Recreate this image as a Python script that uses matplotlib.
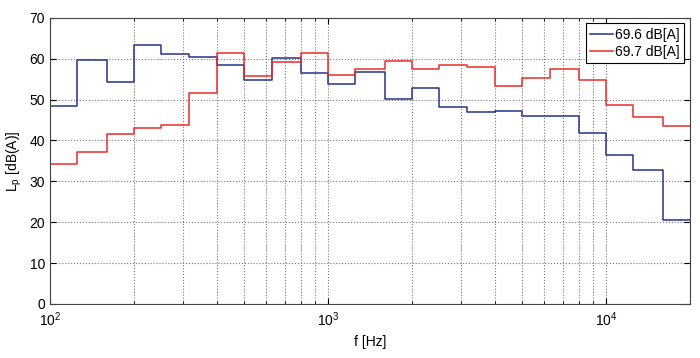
import numpy as np
import matplotlib.pyplot as plt
from matplotlib.ticker import LogLocator, NullFormatter

plt.rcParams['font.family'] = ['Liberation Sans', 'DejaVu Sans']

# third-octave band edges (lower) and upper end of last band
bands = [100, 125, 160, 200, 250, 315, 400, 500, 630, 800, 1000, 1250,
         1600, 2000, 2500, 3150, 4000, 5000, 6300, 8000, 10000, 12500, 16000]
f_end = 20000

lp_blue = [48.5, 59.7, 54.2, 63.3, 61.2, 60.4, 58.4, 54.7, 60.1, 56.6, 53.9,
           56.8, 50.2, 52.9, 48.1, 46.9, 47.3, 46.1, 46.1, 41.8, 36.5, 32.7, 20.6]
lp_red = [34.2, 37.3, 41.7, 43.1, 43.8, 51.6, 61.3, 55.7, 59.3, 61.5, 56.1,
          57.4, 59.4, 57.4, 58.5, 58.0, 53.3, 55.2, 57.4, 54.7, 48.6, 45.8, 43.6]

labels = ["69.6 dB[A]", "69.7 dB[A]"]

fig = plt.figure(figsize=(7, 3.58), dpi=100)
ax = fig.add_axes([0.0714, 0.151, 0.914, 0.799])

f = bands + [f_end]
ax.step(f, lp_blue + [lp_blue[-1]], where='post', color='#25338a', lw=1.1, label=labels[0])
ax.step(f, lp_red + [lp_red[-1]], where='post', color='#ec2a2a', lw=1.1, label=labels[1])

ax.set_xscale('log')
ax.set_xlim(100, 20000)
ax.set_ylim(0, 70)
ax.set_yticks(np.arange(0, 71, 10))
ax.xaxis.set_minor_locator(LogLocator(base=10, subs=np.arange(2, 10)))
ax.xaxis.set_minor_formatter(NullFormatter())

ax.grid(True, which='major', ls=':', color='#777777', lw=0.8)
ax.grid(True, which='minor', axis='x', ls=':', color='#777777', lw=0.8)

ax.tick_params(which='both', direction='in', top=True, right=True, labelsize=10)
ax.tick_params(which='major', length=4)
ax.tick_params(which='minor', length=2.5)
ax.tick_params(axis='x', which='major', pad=5)
for s in ax.spines.values():
    s.set_color('#444444')

ax.set_xlabel('f [Hz]', fontsize=10)
ax.set_ylabel('L$_\\mathregular{p}$ [dB(A)]', fontsize=10)

leg = ax.legend(loc='upper right', fontsize=10, fancybox=False, framealpha=1,
                edgecolor='black', borderpad=0.3, handlelength=1.6,
                handletextpad=0.2, labelspacing=0.25, borderaxespad=0.4)
leg.get_frame().set_linewidth(0.8)

fig.savefig('out.png', dpi=100)
